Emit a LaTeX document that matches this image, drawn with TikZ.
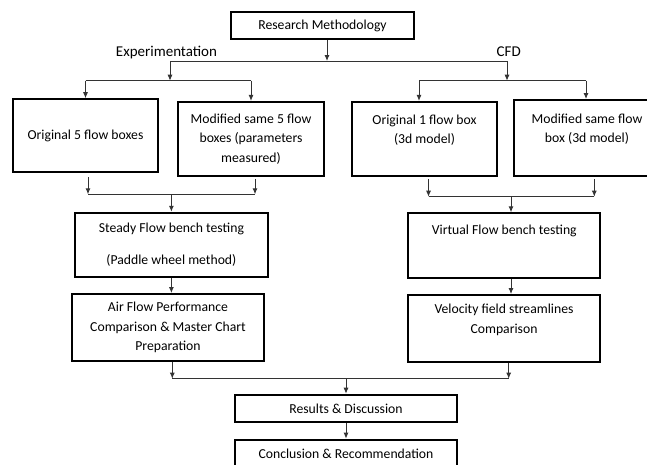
\documentclass[tikz,border=0pt]{standalone}
\usepackage{fontspec}
\setmainfont{Carlito}
\usetikzlibrary{arrows.meta}

\begin{document}
\begin{tikzpicture}[
      x = 1pt, y = -1pt,
      box/.style = {draw, rectangle, line width = 2pt, align = center, inner sep = 0pt,
                    font = \fontsize{13.7}{19.5}\selectfont},
      lbl/.style = {font = \fontsize{15}{18}\selectfont, anchor = base, inner sep = 0pt},
      link/.style = {line width = 0.9pt, draw = black!80},
      arr/.style = {link, -{Latex[length = 6pt, width = 5pt]}}
      ]
      \useasboundingbox (0,0) rectangle (647,464);
      \clip (0,0) rectangle (647,464);

      \node[box, minimum width = 183pt, minimum height = 27pt] (method) at (322.5,25.5) {Research Methodology};
      \node[lbl] (exper) at (166.5,56.7) {Experimentation};
      \node[lbl] (cfd) at (508.7,56.7) {CFD};

      \node[box, minimum width = 145pt, minimum height = 73pt] (orig5) at (85.5,135.7) {Original 5 flow boxes};
      \node[box, minimum width = 146pt, minimum height = 74pt] (mod5) at (251,138.9) {Modified same 5 flow\\boxes (parameters\\measured)};
      \node[box, minimum width = 145pt, minimum height = 74pt] (orig1) at (424.5,138.9) {Original 1 flow box\\(3d model)\\~};
      \node[box, minimum width = 146pt, minimum height = 76pt] (mod1) at (587,138) {Modified same flow\\box (3d model)\\~};

      \node[box, minimum width = 192.7pt, minimum height = 64.3pt] (steady) at (171.4,244.9) {Steady Flow bench testing\\[12pt](Paddle wheel method)};
      \node[box, minimum width = 192.6pt, minimum height = 67.3pt] (airflow) at (168,327.7) {Air Flow Performance\\Comparison \& Master Chart\\Preparation};
      \node[box, minimum width = 192pt, minimum height = 64.4pt] (virtual) at (504.3,245.5) {Virtual Flow bench testing\\[12pt]~};
      \node[box, minimum width = 192pt, minimum height = 67.3pt] (velocity) at (504,328.7) {Velocity field streamlines\\Comparison\\~};

      \node[box, minimum width = 222pt, minimum height = 27.6pt] (results) at (346,408.5) {Results \& Discussion};
      \node[box, minimum width = 222pt, minimum height = 28.3pt] (conclusion) at (346,453.8) {Conclusion \& Recommendation};

      \coordinate (topsplit) at (327,61);
      \coordinate (expfork) at (170,61);
      \coordinate (cfdfork) at (507,61);
      \coordinate (expjoin) at (170,80.7);
      \coordinate (cfdjoin) at (507,80.7);
      \coordinate (orig1in) at (419,80.7);
      \coordinate (mod1in) at (586,80.7);
      \coordinate (orig5out) at (88,194.3);
      \coordinate (mod5out) at (255,194.3);
      \coordinate (orig1out) at (428.5,196.7);
      \coordinate (mod1out) at (594.3,196.7);
      \coordinate (cfdmerge) at (511,196.7);
      \coordinate (airout) at (172.3,378.7);
      \coordinate (velout) at (508.7,378.7);
      \coordinate (finalin) at (346,378.7);

      \draw[arr] (method.south -| topsplit) -- (topsplit);
      \draw[link] (expfork) -- (cfdfork);
      \draw[arr] (expfork) -- (expjoin);
      \draw[arr] (cfdfork) -- (cfdjoin);
      \draw[link] (orig5.north |- expjoin) -- (mod5.north |- expjoin);
      \draw[arr] (orig5.north |- expjoin) -- (orig5.north);
      \draw[arr] (mod5.north |- expjoin) -- (mod5.north);
      \draw[link] (orig1in) -- (mod1in);
      \draw[arr] (orig1in) -- (orig1in |- orig1.north);
      \draw[arr] (mod1in) -- (mod1in |- mod1.north);

      \draw[arr, shorten <= 4pt] (orig5.south -| orig5out) -- (orig5out);
      \draw[arr, shorten <= 2pt] (mod5.south -| mod5out) -- (mod5out);
      \draw[link] (orig5out) -- (mod5out);
      \draw[arr] (steady.north |- orig5out) -- (steady.north);
      \draw[arr, shorten <= 2pt] (orig1.south -| orig1out) -- (orig1out);
      \draw[arr, shorten <= 2pt] (mod1.south -| mod1out) -- (mod1out);
      \draw[link] (orig1out) -- (mod1out);
      \draw[arr] (cfdmerge) -- (cfdmerge |- virtual.north);

      \draw[arr] (steady.south) -- (steady.south |- airflow.north);
      \draw[arr] (cfdmerge |- virtual.south) -- (cfdmerge |- velocity.north);

      \draw[arr] (airout |- airflow.south) -- (airout);
      \draw[arr] (velout |- velocity.south) -- (velout);
      \draw[link] (airout) -- (velout);
      \draw[arr] (finalin) -- (results.north);
      \draw[arr] (results.south) -- (conclusion.north);
\end{tikzpicture}
\end{document}
